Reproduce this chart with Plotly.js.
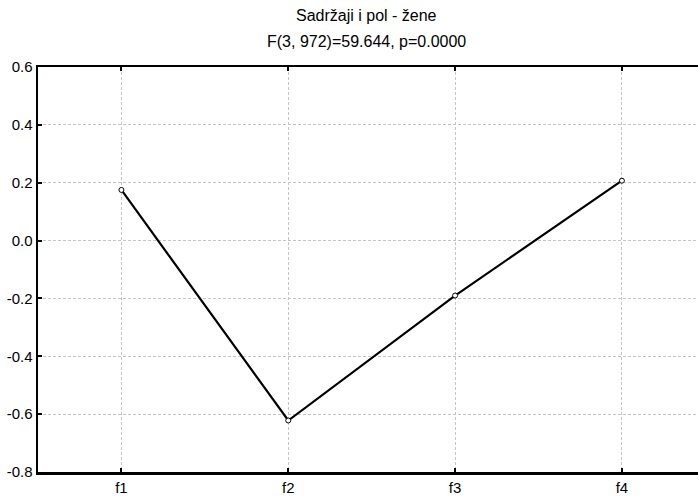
<!DOCTYPE html>
<html><head><meta charset="utf-8">
<script src="https://cdn.plot.ly/plotly-3.0.1.min.js"></script>
<style>body{margin:0;padding:0;background:#fff}#chart{width:698px;height:501px}</style>
</head><body><div id="chart"></div>
<script>
const categories = ['f1', 'f2', 'f3', 'f4'];
const values = [0.175, -0.622, -0.19, 0.207];
const yTickVals = [-0.8, -0.6, -0.4, -0.2, 0.0, 0.2, 0.4, 0.6];
const yTickText = ['-0.8', '-0.6', '-0.4', '-0.2', '0.0', '0.2', '0.4', '0.6'];
const titleLine1 = 'Sadržaji i pol - žene';
const titleLine2 = 'F(3, 972)=59.644, p=0.0000';

const font = {family: 'Liberation Sans, Arial, sans-serif', size: 15, color: '#000'};
const titleFont = {family: 'Liberation Sans, Arial, sans-serif', size: 16, color: '#000'};

Plotly.newPlot('chart', [{
  x: [0, 1, 2, 3], y: values, type: 'scatter', mode: 'lines+markers',
  line: {color: '#000', width: 2.2},
  marker: {symbol: 'circle', size: 5, color: '#fff', line: {color: '#000', width: 1}},
  showlegend: false, hoverinfo: 'none'
}], {
  width: 698, height: 501,
  margin: {l: 38, r: 0, t: 67, b: 29},
  paper_bgcolor: '#fff', plot_bgcolor: '#fff',
  font: font,
  xaxis: {
    range: [-0.5, 3.456], tickvals: [0, 1, 2, 3], ticktext: categories,
    showgrid: true, gridcolor: '#c4c4c4', griddash: '3px,2px', gridwidth: 1,
    showline: true, linecolor: '#000', linewidth: 2.5, mirror: 'ticks',
    ticks: 'inside', ticklen: 4, tickwidth: 2, tickcolor: '#000',
    zeroline: false, tickfont: font
  },
  yaxis: {
    range: [-0.8, 0.6], tickvals: yTickVals, ticktext: yTickText,
    showgrid: true, gridcolor: '#c4c4c4', griddash: '3px,2px', gridwidth: 1,
    showline: true, linecolor: '#000', linewidth: 2.5,
    ticks: 'inside', ticklen: 4, tickwidth: 2, tickcolor: '#000',
    zeroline: false, tickfont: font
  },
  annotations: [
    {text: titleLine1, xref: 'paper', yref: 'paper', x: 0.497, y: 1.128, showarrow: false, font: titleFont, xanchor: 'center', yanchor: 'middle'},
    {text: titleLine2, xref: 'paper', yref: 'paper', x: 0.497, y: 1.062, showarrow: false, font: titleFont, xanchor: 'center', yanchor: 'middle'}
  ]
}, {displayModeBar: false, staticPlot: true});
</script></body></html>
